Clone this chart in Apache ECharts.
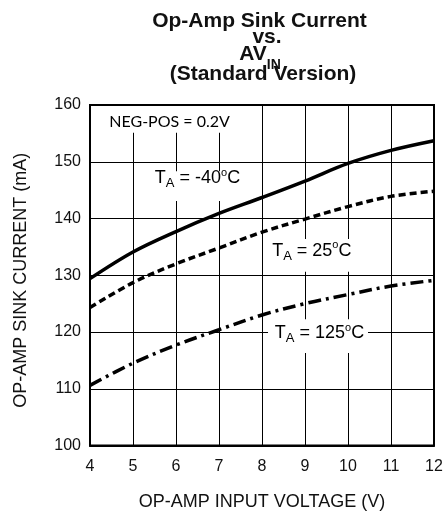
<!DOCTYPE html>
<html><head><meta charset="utf-8">
<script src="https://cdn.jsdelivr.net/npm/echarts@6/dist/echarts.min.js"></script>
<style>html,body{margin:0;padding:0;background:#fff}#c{width:446px;height:516px}</style>
</head><body><div id="c"></div>
<script>
// ---- data ----
const voltages = [4, 5, 6, 7, 8, 9, 10, 11, 12];
const currentM40 = [129.4, 134.1, 137.7, 140.9, 143.7, 146.6, 149.7, 152.0, 153.7];
const current25 = [124.3, 128.7, 132.0, 134.8, 137.6, 139.9, 142.1, 143.9, 144.8];
const current125 = [110.6, 114.5, 117.7, 120.4, 123.0, 125.0, 126.6, 128.1, 129.1];
const xRange = [4, 12];
const yRange = [100, 160];
const titleLines = ['Op-Amp Sink Current', 'vs.', 'AV', 'IN', '(Standard Version)'];
const xName = 'OP-AMP INPUT VOLTAGE (V)';
const yName = 'OP-AMP SINK CURRENT (mA)';
const noteText = 'NEG-POS = 0.2V';
const tempLabels = ['-40', '25', '125'];

// annotation placement in data coordinates
const notes = [
  { text: '{n|' + noteText + '}', at: [5.85, 157.12], box: [4.372, 159.83, 7.256, 155.1] },
  { text: '{t|T}{s|A}{t| = ' + tempLabels[0] + '}{o|o}{t|C}', at: [6.50, 147.14], box: [5.395, 148.34, 7.605, 143.09] },
  { text: '{t|T}{s|A}{t| = ' + tempLabels[1] + '}{o|o}{t|C}', at: [9.158, 134.35], box: [8.093, 136.40, 10.116, 130.63] },
  { text: '{t|T}{s|A}{t| = ' + tempLabels[2] + '}{o|o}{t|C}', at: [9.337, 119.79], box: [8.140, 122.24, 10.465, 116.29] }
];

const toPairs = (xs, ys) => xs.map((x, i) => [x, ys[i]]);

const chart = echarts.init(document.getElementById('c'), null, { renderer: 'canvas' });
const TF = 'Liberation Sans, Arial, sans-serif';
const titleFs = 21;
const col = '#111';

function titleItem(text, cx, top, rich) {
  const o = {
    text: text, left: cx, top: top, textAlign: 'center', padding: 0,
    textStyle: { fontFamily: TF, fontSize: titleFs, fontWeight: 'bold', color: col, lineHeight: titleFs }
  };
  if (rich) o.textStyle.rich = rich;
  return o;
}

chart.setOption({
  animation: false,
  backgroundColor: '#fff',
  title: [
    titleItem(titleLines[0], 259.5, 11.2),
    titleItem(titleLines[1], 267, 26.5),
    titleItem('{a|' + titleLines[2] + '}{b|' + titleLines[3] + '}', 260, 43.9, {
      a: { fontFamily: TF, fontSize: titleFs, fontWeight: 'bold', color: col, lineHeight: titleFs },
      b: { fontFamily: TF, fontSize: 14, fontWeight: 'bold', color: col, lineHeight: titleFs, padding: [21.5, 0, 0, 0] }
    }),
    titleItem(titleLines[4], 263, 63.9)
  ],
  grid: { left: 90, top: 105, right: 12, bottom: 68, show: true, borderColor: '#000', borderWidth: 2, containLabel: false },
  xAxis: {
    type: 'value', min: xRange[0], max: xRange[1], interval: 1,
    name: xName, nameLocation: 'middle', nameGap: 47.5,
    nameTextStyle: { fontFamily: TF, fontSize: 18, color: col, lineHeight: 18 },
    axisLine: { show: true, lineStyle: { color: '#000', width: 2 } },
    axisTick: { show: false },
    axisLabel: { fontFamily: TF, fontSize: 16, color: col, margin: 13, lineHeight: 16 },
    splitLine: { show: true, lineStyle: { color: '#000', width: 1 } }
  },
  yAxis: {
    type: 'value', min: yRange[0], max: yRange[1], interval: 10,
    name: yName, nameLocation: 'middle', nameGap: 60, nameRotate: 90,
    nameTextStyle: { fontFamily: TF, fontSize: 18, color: col, lineHeight: 18, padding: [0, 10, 0, 0] },
    axisLine: { show: true, lineStyle: { color: '#000', width: 2 } },
    axisTick: { show: false },
    axisLabel: { fontFamily: TF, fontSize: 16, color: col, margin: 9, padding: [4, 0, 0, 0] },
    splitLine: { show: true, lineStyle: { color: '#000', width: 1 } }
  },
  series: [
    { name: 'TA = -40°C', type: 'line', data: toPairs(voltages, currentM40), smooth: 0.35, showSymbol: false, z: 3,
      lineStyle: { color: '#000', width: 3.5, type: 'solid' } },
    { name: 'TA = 25°C', type: 'line', data: toPairs(voltages, current25), smooth: 0.35, showSymbol: false, z: 3,
      lineStyle: { color: '#000', width: 3.5, type: [7, 4], cap: 'butt' } },
    { name: 'TA = 125°C', type: 'line', data: toPairs(voltages, current125), smooth: 0.35, showSymbol: false, z: 3,
      lineStyle: { color: '#000', width: 3.5, type: [13, 5, 3, 5], cap: 'butt' } }
  ]
});

const rich = {
  n: { fontFamily: 'Lato, sans-serif', fontSize: 16, color: col, lineHeight: 22 },
  t: { fontFamily: TF, fontSize: 18, color: col, lineHeight: 22 },
  s: { fontFamily: TF, fontSize: 13, color: col, lineHeight: 22, padding: [11, 0, 0, 0] },
  o: { fontFamily: TF, fontSize: 11, color: col, lineHeight: 22, padding: [0, 0, 11, 0] }
};

const graphics = [];
notes.forEach(n => {
  const p0 = chart.convertToPixel({ gridIndex: 0 }, [n.box[0], n.box[1]]);
  const p1 = chart.convertToPixel({ gridIndex: 0 }, [n.box[2], n.box[3]]);
  const c = chart.convertToPixel({ gridIndex: 0 }, n.at);
  graphics.push({ type: 'rect', z: 1, silent: true,
    shape: { x: p0[0], y: p0[1], width: p1[0] - p0[0], height: p1[1] - p0[1] },
    style: { fill: '#fff' } });
  graphics.push({ type: 'text', z: 4, silent: true, x: c[0], y: c[1],
    style: { text: n.text, rich: rich, align: 'center', verticalAlign: 'middle' } });
});
chart.setOption({ graphic: graphics });
</script>
</body></html>
